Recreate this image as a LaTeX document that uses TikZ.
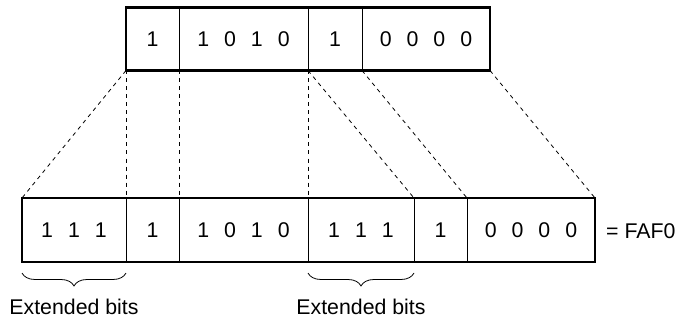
\documentclass[tikz,border=0pt]{standalone}
\usepackage{fontspec}
\setmainfont{Liberation Sans}
\usetikzlibrary{decorations.pathreplacing}
\newcommand{\bitgap}{\hspace{15pt}}

\begin{document}
\begin{tikzpicture}[x=1pt, y=1pt,
    font=\fontsize{21.3}{25}\selectfont,
    cell/.style={
        draw,
        line width=.8pt,
        rectangle,
        inner sep=0pt,
        outer sep=0pt},
    topcell/.style={cell, minimum height=63pt},
    botcell/.style={cell, minimum height=64pt},
    frame/.style={line width=2.6pt},
    guide/.style={line width=.8pt, dash pattern=on 4pt off 4pt},
    extbrace/.style={
        decorate,
        decoration={brace, mirror, amplitude=13pt},
        line width=.8pt}]

    \useasboundingbox (0,0) rectangle (678,322);

    % word before extension
    \node[topcell, minimum width=53pt] (tA) at (152.5,283) {1};
    \node[topcell, minimum width=129pt] (tB) at (243.5,283) {1\bitgap0\bitgap1\bitgap0};
    \node[topcell, minimum width=54pt] (tC) at (335,283) {1};
    \node[topcell, minimum width=128pt] (tD) at (426,283) {0\bitgap0\bitgap0\bitgap0};
    \draw[frame] (tA.north west) rectangle (tD.south east);

    % extended word
    \node[botcell, minimum width=104pt] (bA) at (74,92) {1\bitgap1\bitgap1};
    \node[botcell, minimum width=53pt] (bB) at (152.5,92) {\raisebox{-2pt}{1}};
    \node[botcell, minimum width=129pt] (bC) at (243.5,92) {1\bitgap0\bitgap1\bitgap0};
    \node[botcell, minimum width=106pt] (bD) at (361,92) {1\bitgap1\bitgap1};
    \node[botcell, minimum width=53pt] (bE) at (440.5,92) {1};
    \node[botcell, minimum width=128pt] (bF) at (531,92) {0\bitgap0\bitgap0\bitgap0};
    \draw[frame] (bA.north west) rectangle (bF.south east);

    \node[anchor=west, inner sep=0pt] (res) at (606,90.5) {= FAF0};

    % dashed guides
    \draw[guide] (tA.south west) -- (bA.north west);
    \draw[guide] (tA.south west) -- (bB.north west);
    \draw[guide] (tB.south west) -- (bC.north west);
    \draw[guide] (tC.south west) -- (bD.north west);
    \draw[guide] (tC.south west) -- (bE.north west);
    \draw[guide] (tD.south west) -- (bF.north west);
    \draw[guide] (tD.south east) -- (bF.north east);

    % braces
    \draw[extbrace] ([yshift=-11pt]bA.south west) -- ([yshift=-11pt]bA.south east);
    \draw[extbrace] ([yshift=-11pt]bD.south west) -- ([yshift=-11pt]bD.south east);
    \node (extA) at (74,15.5) {Extended bits};
    \node (extD) at (361,15.5) {Extended bits};
\end{tikzpicture}
\end{document}
